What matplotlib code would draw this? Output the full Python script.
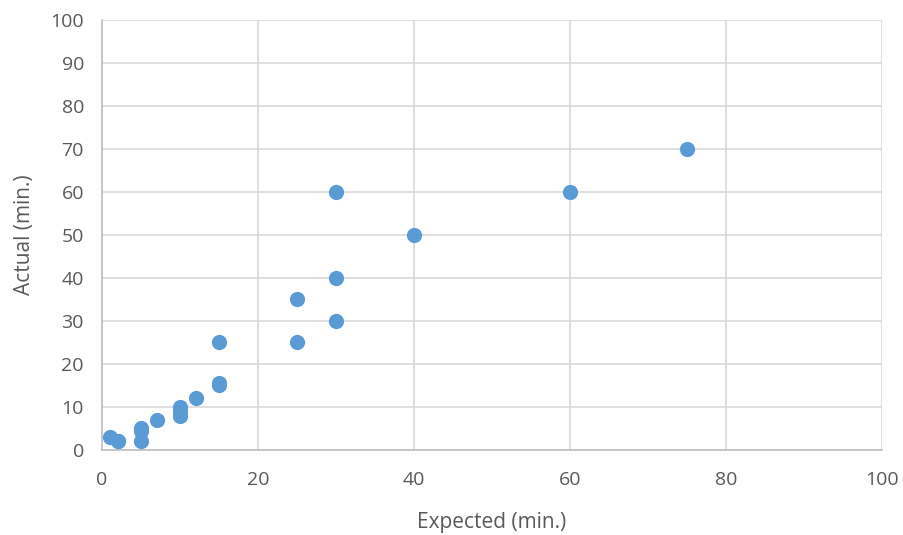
import matplotlib.pyplot as plt

# 预计时间与实际时间（分钟）
expected = [1, 2, 2, 5, 5, 5, 7, 10, 10, 10, 12, 15, 15, 15, 25, 25, 30, 30, 30, 40, 60, 75]
actual = [3, 2, 2, 5, 4.5, 2, 7, 10, 9, 8, 12, 15, 15.5, 25, 35, 25, 60, 40, 30, 50, 60, 70]

plt.rcParams['font.family'] = ['Open Sans', 'DejaVu Sans']
fig = plt.figure(figsize=(9.04, 5.35), dpi=100)
ax = fig.add_axes([0.1128, 0.1589, 0.8629, 0.8037])

ax.scatter(expected, actual, s=120, c='#5b9bd5', zorder=3, linewidths=0)

ax.set_xlim(0, 100)
ax.set_ylim(0, 100)
ax.set_xticks(range(0, 101, 20))
ax.set_yticks(range(0, 101, 10))
ax.grid(True, color='#d9d9d9', linewidth=1.2)
ax.set_axisbelow(True)
for s in ['top', 'right']:
    ax.spines[s].set_visible(False)
for s in ['left', 'bottom']:
    ax.spines[s].set_color('#bfbfbf')
    ax.spines[s].set_linewidth(1.2)
ax.tick_params(length=0, labelsize=14, colors='#595959')
ax.tick_params(axis='x', pad=15)
ax.tick_params(axis='y', pad=13)
ax.set_xlabel('Expected (min.)', fontsize=15, color='#595959', labelpad=17)
ax.set_ylabel('Actual (min.)', fontsize=15, color='#595959', labelpad=11)

plt.savefig('out.png', dpi=100)
